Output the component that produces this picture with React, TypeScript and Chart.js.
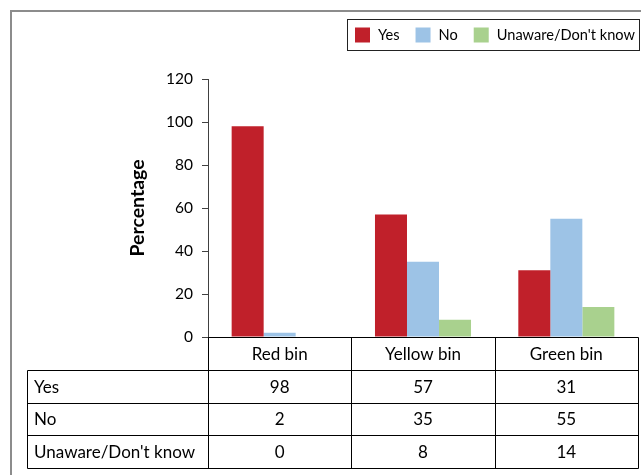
import { useEffect, useRef } from "react";
import { Chart, registerables } from "chart.js";

Chart.register(...registerables);

const categories = ["Red bin", "Yellow bin", "Green bin"];
const seriesNames = ["Yes", "No", "Unaware/Don't know"];
const yesValues = [98, 57, 31];
const noValues = [2, 35, 55];
const unawareValues = [0, 8, 14];
const yTicks = [0, 20, 40, 60, 80, 100, 120];
const seriesColors = ["#c0202a", "#9dc3e6", "#a9d18e"];

const FONT = "Lato, 'Open Sans', sans-serif";

const framePlugin = {
  id: "frame",
  beforeDraw(chart: any) {
    const ctx = chart.ctx;
    ctx.save();
    ctx.fillStyle = "#ffffff";
    ctx.fillRect(0, 0, chart.width, chart.height);
    ctx.strokeStyle = "#8c8c8c";
    ctx.lineWidth = 2;
    ctx.beginPath();
    ctx.moveTo(11, chart.height + 2);
    ctx.lineTo(11, 11);
    ctx.lineTo(chart.width + 2, 11);
    ctx.stroke();
    ctx.restore();
  },
};

const legendBoxPlugin = {
  id: "legendBox",
  afterDraw(chart: any) {
    const ctx = chart.ctx;
    ctx.save();
    const boxL = 347.5, boxT = 19.5, boxR = 639.5, boxB = 50.5;
    ctx.strokeStyle = "#222";
    ctx.lineWidth = 1;
    ctx.strokeRect(boxL, boxT, boxR - boxL, boxB - boxT);
    ctx.font = `14.6px ${FONT}`;
    ctx.textBaseline = "middle";
    ctx.textAlign = "left";
    let x = 355;
    const sw = 15;
    const cy = 35;
    chart.data.datasets.forEach((ds: any) => {
      ctx.fillStyle = ds.backgroundColor;
      ctx.fillRect(x, cy - sw / 2, sw, sw);
      x += sw + 8;
      ctx.fillStyle = "#000";
      ctx.fillText(ds.label, x, cy);
      x += ctx.measureText(ds.label).width + 16;
    });
    ctx.restore();
  },
};

const tablePlugin = {
  id: "dataTable",
  afterDraw(chart: any) {
    const ctx = chart.ctx;
    const xs = chart.scales.x;
    const ys = chart.scales.y;
    const { left, right } = chart.chartArea;
    const n = categories.length;
    const bounds: number[] = [left];
    for (let i = 1; i < n; i++) {
      bounds.push((xs.getPixelForValue(i - 1) + xs.getPixelForValue(i)) / 2);
    }
    bounds.push(right);
    const px = (v: number) => Math.round(v) + 0.5;
    const top = ys.getPixelForValue(0);
    const headerB = top + 33;
    const rowH = 32.5;
    const tableLeft = 27;
    const rowsData = [yesValues, noValues, unawareValues];
    const tableB = headerB + rowH * rowsData.length;

    ctx.save();
    ctx.strokeStyle = "#000";
    ctx.lineWidth = 1;
    ctx.beginPath();
    ctx.moveTo(px(left), px(top));
    ctx.lineTo(px(right), px(top));
    bounds.forEach((b) => {
      ctx.moveTo(px(b), px(top));
      ctx.lineTo(px(b), px(tableB));
    });
    for (let r = 0; r <= rowsData.length; r++) {
      const yy = px(headerB + r * rowH);
      ctx.moveTo(px(tableLeft), yy);
      ctx.lineTo(px(right), yy);
    }
    ctx.moveTo(px(tableLeft), px(headerB));
    ctx.lineTo(px(tableLeft), px(tableB));
    ctx.stroke();

    ctx.fillStyle = "#000";
    ctx.font = `17px ${FONT}`;
    ctx.textBaseline = "middle";
    ctx.textAlign = "center";
    categories.forEach((c, i) => {
      ctx.fillText(c, (bounds[i] + bounds[i + 1]) / 2, (top + headerB) / 2 + 1);
    });
    rowsData.forEach((vals, r) => {
      const cy = headerB + r * rowH + rowH / 2 + 1;
      ctx.textAlign = "left";
      ctx.fillText(seriesNames[r], tableLeft + 7, cy);
      ctx.textAlign = "center";
      vals.forEach((v, i) => {
        ctx.fillText(String(v), (bounds[i] + bounds[i + 1]) / 2, cy);
      });
    });
    ctx.restore();
  },
};

export default function App() {
  const ref = useRef<HTMLCanvasElement | null>(null);
  useEffect(() => {
    if (!ref.current) return;
    const chart = new Chart(ref.current, {
      type: "bar",
      data: {
        labels: categories,
        datasets: [
          { label: seriesNames[0], data: yesValues, backgroundColor: seriesColors[0] },
          { label: seriesNames[1], data: noValues, backgroundColor: seriesColors[1] },
          { label: seriesNames[2], data: unawareValues, backgroundColor: seriesColors[2] },
        ],
      },
      options: {
        responsive: false,
        animation: false,
        layout: { padding: { left: 0, top: 79, right: 3, bottom: 475 - 337 } },
        datasets: {
          bar: { barPercentage: 1, categoryPercentage: 0.67, borderWidth: 0 },
        },
        plugins: {
          legend: { display: false },
          tooltip: { enabled: false },
        },
        scales: {
          x: { display: false },
          y: {
            min: yTicks[0],
            max: yTicks[yTicks.length - 1],
            ticks: {
              stepSize: yTicks[1] - yTicks[0],
              color: "#000",
              font: { family: FONT, size: 15.5 },
              padding: 9,
            },
            grid: {
              drawOnChartArea: false,
              drawTicks: true,
              tickLength: 6,
              color: "#404040",
            },
            border: { display: true, color: "#404040" },
            title: {
              display: true,
              text: "Percentage",
              color: "#000",
              font: { family: FONT, size: 19.5, weight: "bold" },
              padding: { top: 126, bottom: 0 },
            },
            afterFit(scale: any) {
              scale.width = 208;
            },
          },
        },
      },
      plugins: [framePlugin, legendBoxPlugin, tablePlugin],
    });
    return () => chart.destroy();
  }, []);
  return (
    <div style={{ position: "fixed", left: 0, top: 0, width: 641, height: 475 }}>
      <canvas ref={ref} width={641} height={475} style={{ display: "block" }} />
    </div>
  );
}
